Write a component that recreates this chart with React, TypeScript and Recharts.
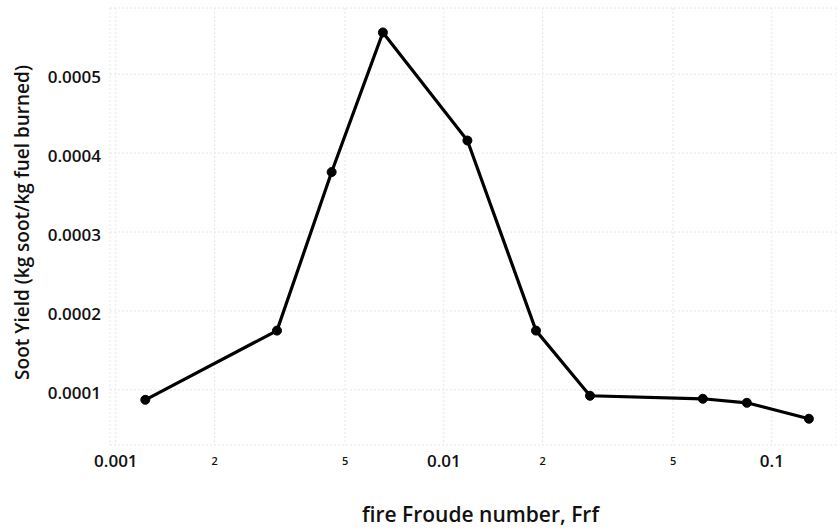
import { CartesianGrid, Line, LineChart, XAxis, YAxis } from "recharts";

// Froude number (log scale) vs soot yield
const froude = [0.00123, 0.0031, 0.00455, 0.00652, 0.0118, 0.0191, 0.0279, 0.0616, 0.0839, 0.1297];
const sootYield = [0.0000873, 0.000175, 0.000376, 0.000553, 0.000416, 0.000175, 0.0000924, 0.0000886, 0.0000835, 0.0000633];

const xTicks = [0.001, 0.002, 0.005, 0.01, 0.02, 0.05, 0.1];
const xTickLabels = ["0.001", "2", "5", "0.01", "2", "5", "0.1"];
const yTicks = [0.0001, 0.0002, 0.0003, 0.0004, 0.0005];

const data = froude.map((f, i) => ({ frf: f, soot: sootYield[i] }));

const font = "'Open Sans', 'Noto Sans', sans-serif";
const ink = "#111";

// eslint-disable-next-line @typescript-eslint/no-explicit-any
function XTick(props: any) {
  const { x, y, payload, index } = props;
  const label = xTickLabels[index] ?? String(payload.value);
  const small = label.length === 1;
  return (
    <text
      x={x}
      y={y + (small ? 12 : 14)}
      textAnchor="middle"
      fontSize={small ? 11 : 17}
      fontWeight={600}
      fontFamily={font}
      fill={ink}
    >
      {label}
    </text>
  );
}

// eslint-disable-next-line @typescript-eslint/no-explicit-any
function YTitle(props: any) {
  const { viewBox } = props;
  const cx = 22;
  const cy = viewBox.y + viewBox.height / 2 - 4;
  return (
    <text
      x={cx}
      y={cy}
      transform={`rotate(-90, ${cx}, ${cy})`}
      textAnchor="middle"
      dominantBaseline="central"
      fontSize={19}
      fontWeight={600}
      fontFamily={font}
      fill={ink}
    >
      Soot Yield (kg soot/kg fuel burned)
    </text>
  );
}

// eslint-disable-next-line @typescript-eslint/no-explicit-any
function XTitle(props: any) {
  const { viewBox } = props;
  return (
    <text
      x={viewBox.x + viewBox.width / 2 + 7}
      y={viewBox.y + viewBox.height - 7}
      textAnchor="middle"
      fontSize={21}
      fontWeight={600}
      fontFamily={font}
      fill={ink}
    >
      fire Froude number, Frf
    </text>
  );
}

export default function App() {
  return (
    <div style={{ position: "absolute", left: 0, top: 0, background: "#fff" }}>
      <LineChart
        width={837}
        height={529}
        data={data}
        margin={{ top: 8, right: 0, left: 0, bottom: 0 }}
      >
        <CartesianGrid stroke="#e6e6e6" strokeDasharray="2 2" />
        <XAxis
          dataKey="frf"
          type="number"
          scale="log"
          domain={[0.00096, 0.158]}
          ticks={xTicks}
          allowDataOverflow
          axisLine={false}
          tickLine={false}
          height={84}
          interval={0}
          tick={<XTick />}
          label={<XTitle />}
        />
        <YAxis
          type="number"
          domain={[0.00003, 0.000584]}
          ticks={yTicks}
          allowDataOverflow
          axisLine={false}
          tickLine={false}
          width={110}
          tickMargin={3}
          tickFormatter={(v: number) => v.toFixed(4)}
          tick={{ fontSize: 17, fontWeight: 600, fontFamily: font, fill: ink, dy: 3 }}
          label={<YTitle />}
        />
        <Line
          dataKey="soot"
          stroke="#000"
          strokeWidth={3.2}
          dot={{ r: 4.5, fill: "#000", stroke: "#000", strokeWidth: 1 }}
          isAnimationActive={false}
        />
      </LineChart>
    </div>
  );
}
